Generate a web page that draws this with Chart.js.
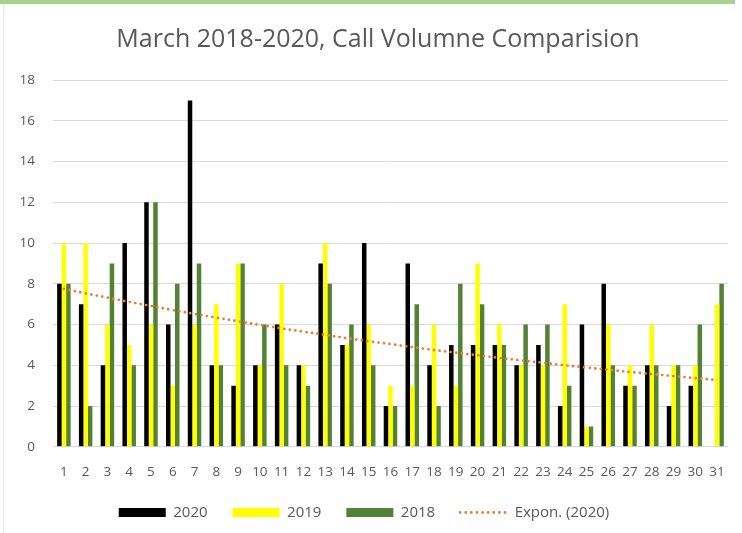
<!DOCTYPE html>
<html>
<head>
<meta charset="utf-8">
<script src="https://cdn.jsdelivr.net/npm/chart.js@4.4.1/dist/chart.umd.min.js"></script>
<style>
  html, body { margin: 0; padding: 0; background: #fff; }
  #wrap { position: relative; width: 742px; height: 533px; }
  #topbar { position: absolute; left: 0; top: 0; width: 735px; height: 4px; background: #a9d18e; }
  #frame { position: absolute; left: 3px; top: 4px; width: 1px; height: 529px; background: #e6e6e6; }
  canvas { position: absolute; left: 0; top: 0; }
</style>
</head>
<body>
<div id="wrap">
  <div id="topbar"></div>
  <div id="frame"></div>
  <canvas id="c" width="742" height="533"></canvas>
</div>
<script>
const days = ['1','2','3','4','5','6','7','8','9','10','11','12','13','14','15','16','17','18','19','20','21','22','23','24','25','26','27','28','29','30','31'];
const calls2020 = [8,7,4,10,12,6,17,4,3,4,6,4,9,5,10,2,9,4,5,5,5,4,5,2,6,8,3,4,2,3,0];
const calls2019 = [10,10,6,5,6,3,6,7,9,4,8,4,10,5,6,3,3,6,3,9,6,4,4,7,1,6,4,6,4,4,7];
const calls2018 = [8,2,9,4,12,8,9,4,9,6,4,3,8,6,4,2,7,2,8,7,5,6,6,3,1,4,3,4,4,6,8];
const trend2020 = [7.75,7.53,7.32,7.11,6.91,6.71,6.52,6.34,6.16,5.98,5.81,5.65,5.49,5.33,5.18,5.04,4.89,4.75,4.62,4.49,4.36,4.24,4.12,4.00,3.89,3.78,3.67,3.57,3.47,3.37,3.27];
const yTicks = [0,2,4,6,8,10,12,14,16,18];

const FONT = "'Open Sans', 'Liberation Sans', sans-serif";
const GREY = '#595959';

const shiftBlocks = {
  id: 'shiftBlocks',
  afterLayout(chart) {
    if (chart.titleBlock) { chart.titleBlock.left += 18; }
    if (chart.legend) { chart.legend.left -= 5; chart.legend.right -= 5; }
  }
};

new Chart(document.getElementById('c'), {
  data: {
    labels: days,
    datasets: [
      { type: 'bar', label: '2020', data: calls2020, backgroundColor: '#000000', borderWidth: 0, pointStyle: 'rect', order: 2 },
      { type: 'bar', label: '2019', data: calls2019, backgroundColor: '#ffff00', borderWidth: 0, pointStyle: 'rect', order: 2 },
      { type: 'bar', label: '2018', data: calls2018, backgroundColor: '#548235', borderWidth: 0, pointStyle: 'rect', order: 2 },
      { type: 'line', label: 'Expon. (2020)', data: trend2020, borderColor: '#ed7d31', backgroundColor: '#ed7d31',
        borderWidth: 2.8, borderDash: [0, 5.6], borderCapStyle: 'round', pointRadius: 0, pointStyle: 'line', fill: false, tension: 0.4, order: 1 }
    ]
  },
  plugins: [shiftBlocks],
  options: {
    responsive: false,
    animation: false,
    layout: { padding: { left: 8, right: 12, top: 14, bottom: 3 } },
    datasets: { bar: { categoryPercentage: 0.62, barPercentage: 1.0 } },
    plugins: {
      title: {
        display: true,
        text: 'March 2018-2020, Call Volumne Comparision',
        color: GREY,
        font: { family: FONT, size: 25, weight: 'normal' },
        padding: { top: 11, bottom: 25 }
      },
      legend: {
        position: 'bottom',
        labels: {
          usePointStyle: true,
          pointStyleWidth: 47,
          boxHeight: 9,
          color: GREY,
          font: { family: FONT, size: 15 },
          padding: 25,
          sort: (a, b) => a.datasetIndex - b.datasetIndex,
          generateLabels: (chart) => {
            const items = Chart.defaults.plugins.legend.labels.generateLabels(chart);
            items.forEach(it => {
              const ds = chart.data.datasets[it.datasetIndex];
              if (ds.type === 'line') {
                it.lineDash = ds.borderDash;
                it.lineCap = 'round';
                it.lineWidth = ds.borderWidth;
                it.strokeStyle = ds.borderColor;
              }
            });
            return items;
          }
        }
      },
      tooltip: { enabled: false }
    },
    scales: {
      x: {
        grid: { display: false, drawTicks: false },
        border: { display: true, color: '#d9d9d9' },
        ticks: { color: GREY, font: { family: FONT, size: 13.5 }, padding: 17, maxRotation: 0, autoSkip: false },
        afterFit: (scale) => { scale.height -= 17; }
      },
      y: {
        min: 0, max: 18,
        afterBuildTicks: (axis) => { axis.ticks = yTicks.map(v => ({ value: v })); },
        grid: { color: '#d9d9d9', lineWidth: 1, drawTicks: false },
        border: { display: false },
        ticks: { color: GREY, font: { family: FONT, size: 13.5 }, padding: 18 },
        afterFit: (scale) => { scale.width = 45; }
      }
    }
  }
});
</script>
</body>
</html>
